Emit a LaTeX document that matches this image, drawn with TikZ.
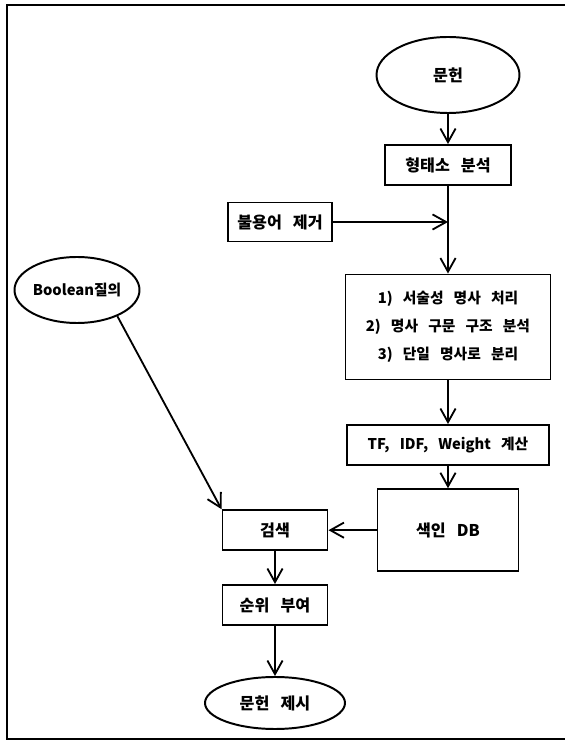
\documentclass[tikz,border=0pt]{standalone}
\usepackage{fontspec}
\setmainfont{Noto Sans CJK KR}[WordSpace=3]
\usetikzlibrary{shapes.geometric, arrows.meta}

\begin{document}
\begin{tikzpicture}[
  box/.style={draw, line width=1.4pt, minimum height=1cm, align=center, inner sep=2pt},
  oval/.style={draw, ellipse, line width=1.4pt, inner sep=0pt},
  arrow/.style={-{Straight Barb[length=3.4mm, width=3.8mm]}, line width=1.3pt},
  small/.style={font=\fontsize{10.5}{20}\selectfont\bfseries},
  font=\fontsize{11.5}{20}\selectfont\bfseries,
]
\useasboundingbox (0,0) rectangle (14.125,18.525);
% frame (open on the right)
\draw[line width=1.5pt] (14.2,18.41) -- (0.175,18.41) -- (0.175,0.05) -- (14.2,0.05);

% main column
\node[oval, minimum width=3.575cm, minimum height=1.9cm] (doc) at (11.2, 16.65) {문헌};
\node[box, minimum width=3.15cm] (morph) at (11.2, 14.4) {형태소 분석};
\node[box, minimum width=2.6cm, minimum height=0.975cm] (stop) at (7.0, 12.975) {불용어 제거};
\node[box, minimum width=5.125cm, minimum height=2.625cm, small] (proc) at (11.2, 10.35) {1) 서술성 명사 처리\\2) 명사 구문 구조 분석\\3) 단일 명사로 분리};
\node[box, minimum width=5.05cm, small] (tfidf) at (11.2, 7.4) {TF, IDF, Weight 계산};
\node[box, minimum width=3.525cm, minimum height=2.05cm] (index) at (11.2, 5.27) {색인 DB};

% query column
\node[oval, minimum width=3.075cm, minimum height=1.65cm, small] (bool) at (1.925, 11.275) {Boolean질의};
\node[box, minimum width=2.625cm] (search) at (6.875, 5.27) {검색};
\node[box, minimum width=2.625cm] (rank) at (6.875, 3.4) {순위 부여};
\node[oval, minimum width=3.5cm, minimum height=1.3cm] (show) at (6.875, 0.95) {문헌 제시};

% arrows
\draw[arrow] (doc) -- (morph);
\draw[arrow] (morph) -- (proc);
\draw[arrow] (stop) -- (morph |- stop);
\draw[arrow] (proc) -- (tfidf);
\draw[arrow] (tfidf) -- (index);
\draw[arrow] (index) -- (search);
\draw[arrow] (bool.-33) -- (search.north west);
\draw[arrow] (search) -- (rank);
\draw[arrow] (rank) -- (show);
\end{tikzpicture}
\end{document}
